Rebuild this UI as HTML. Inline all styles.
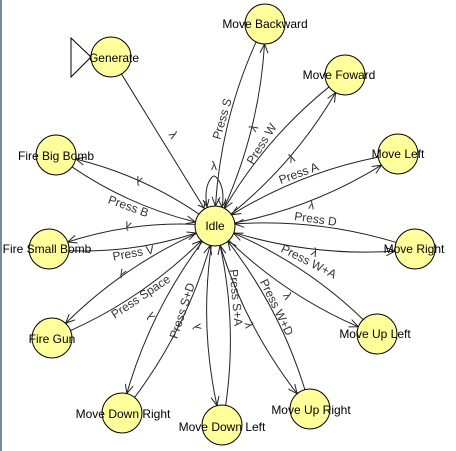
<!DOCTYPE html>
<html><head><meta charset="utf-8"><style>
html,body{margin:0;padding:0;background:#fff;}
body{width:456px;height:451px;overflow:hidden;position:relative;}
svg{position:absolute;left:0;top:0;}
text{font-family:"Liberation Sans",sans-serif;font-size:12px;fill:#000;}
.l{fill:#333;}
</style></head><body>
<svg id="s" width="456" height="451" viewBox="0 0 456 451">
<rect x="0" y="0" width="2" height="451" fill="#7a8a9a"/>
<g id="edges" fill="none" stroke="#222" stroke-width="1"></g>
<path d="M207,207 C203,185 212,176 214,176 C216,176 226,185 222,207" fill="none" stroke="#222"/>
<path d="M203,200 L207,207 L209,199 M218,199 L222,207 L226,200" fill="none" stroke="#222"/>
<line x1="111" y1="57" x2="215" y2="226" stroke="#222"/>
<path d="M198,205 L204,208 L205,201" fill="none" stroke="#222"/>
<polygon points="71,38 91,57 71,77" fill="#fff" stroke="#000"/>
<g fill="#ffff99" stroke="#000" stroke-width="1">
<circle cx="215" cy="226" r="20"/>
<circle cx="111" cy="57" r="20"/>
<circle cx="265" cy="24" r="20"/>
<circle cx="345" cy="75" r="20"/>
<circle cx="398" cy="154" r="20"/>
<circle cx="415" cy="249" r="20"/>
<circle cx="377" cy="334" r="20"/>
<circle cx="310" cy="409" r="20"/>
<circle cx="222" cy="425" r="20"/>
<circle cx="122" cy="413" r="20"/>
<circle cx="52" cy="338" r="20"/>
<circle cx="49" cy="249" r="20"/>
<circle cx="56" cy="155" r="20"/>
</g>
<g text-anchor="middle">
<text x="215" y="230">Idle</text>
<text x="114" y="62">Generate</text>
<text x="265" y="28">Move Backward</text>
<text x="339" y="79">Move Foward</text>
<text x="398" y="158">Move Left</text>
<text x="414" y="253">Move Right</text>
<text x="375" y="338">Move Up Left</text>
<text x="311" y="414">Move Up Right</text>
<text x="222" y="431">Move Down Left</text>
<text x="123" y="418">Move Down Right</text>
<text x="52" y="343">Fire Gun</text>
<text x="47" y="253">Fire Small Bomb</text>
<text x="56" y="160">Fire Big Bomb</text>
</g>
<g text-anchor="middle" class="l">
<text class="l" transform="translate(214,170)">λ</text>
<text class="l" transform="translate(170,137) rotate(58)">λ</text>
<text class="l" transform="translate(226,120) rotate(-74)">Press S</text>
<text class="l" transform="translate(257,130) rotate(-60)">λ</text>
<text class="l" transform="translate(265,146) rotate(-58)">Press W</text>
<text class="l" transform="translate(293,162) rotate(-22)">λ</text>
<text class="l" transform="translate(300,177) rotate(-20)">Press A</text>
<text class="l" transform="translate(311,209) rotate(8)">λ</text>
<text class="l" transform="translate(315,223) rotate(8)">Press D</text>
<text class="l" transform="translate(313,256) rotate(25)">λ</text>
<text class="l" transform="translate(307,265) rotate(27)">Press W+A</text>
<text class="l" transform="translate(284,298) rotate(60)">λ</text>
<text class="l" transform="translate(273,309) rotate(64)">Press W+D</text>
<text class="l" transform="translate(245,326) rotate(80)">λ</text>
<text class="l" transform="translate(232,298) rotate(85)">Press S+A</text>
<text class="l" transform="translate(201,326) rotate(-100)">λ</text>
<text class="l" transform="translate(186,312) rotate(-72)">Press S+D</text>
<text class="l" transform="translate(154,314) rotate(-120)">λ</text>
<text class="l" transform="translate(143,300) rotate(-34)">Press Space</text>
<text class="l" transform="translate(124,270) rotate(-150)">λ</text>
<text class="l" transform="translate(134,257) rotate(-10)">Press V</text>
<text class="l" transform="translate(129,222) rotate(200)">λ</text>
<text class="l" transform="translate(127,210) rotate(20)">Press B</text>
<text class="l" transform="translate(140,177) rotate(200)">λ</text>
</g>
</svg>
<script>
(function(){
var g=document.getElementById('edges');var NS='http://www.w3.org/2000/svg';
var I=[215,226],R=20;
var N=[[265,24],[345,75],[398,154],[415,249],[377,334],[310,409],[222,425],[122,413],[52,338],[49,249],[56,155]];
function add(d){var p=document.createElementNS(NS,'path');p.setAttribute('d',d);g.appendChild(p);}
function curve(a,b,sgn){
var dx=b[0]-a[0],dy=b[1]-a[1],L=Math.hypot(dx,dy),ux=dx/L,uy=dy/L,px=-uy,py=ux;
var ang=0.22*sgn;
function rot(x,y,t){return [x*Math.cos(t)-y*Math.sin(t),x*Math.sin(t)+y*Math.cos(t)];}
var s=rot(ux,uy,ang),e=rot(-ux,-uy,-ang);
var sx=a[0]+s[0]*R,sy=a[1]+s[1]*R,ex=b[0]+e[0]*R,ey=b[1]+e[1]*R;
var off=L*0.095*sgn;
var cx=(a[0]+b[0])/2+px*off,cy=(a[1]+b[1])/2+py*off;
add('M'+sx+','+sy+' Q'+cx+','+cy+' '+ex+','+ey);
return [sx,sy,cx,cy,ex,ey];
}
function arrow(tx,ty,fx,fy){
var dx=tx-fx,dy=ty-fy,L=Math.hypot(dx,dy),ux=dx/L,uy=dy/L,px=-uy,py=ux,h=9,w=4;
add('M'+(tx-ux*h+px*w)+','+(ty-uy*h+py*w)+' L'+tx+','+ty+' L'+(tx-ux*h-px*w)+','+(ty-uy*h-py*w));
}
N.forEach(function(n){
var c=curve(I,n,1);arrow(c[4],c[5],c[2],c[3]);
var d=curve(n,I,1);arrow(d[4],d[5],d[2],d[3]);
});
})();
</script>
</body></html>
